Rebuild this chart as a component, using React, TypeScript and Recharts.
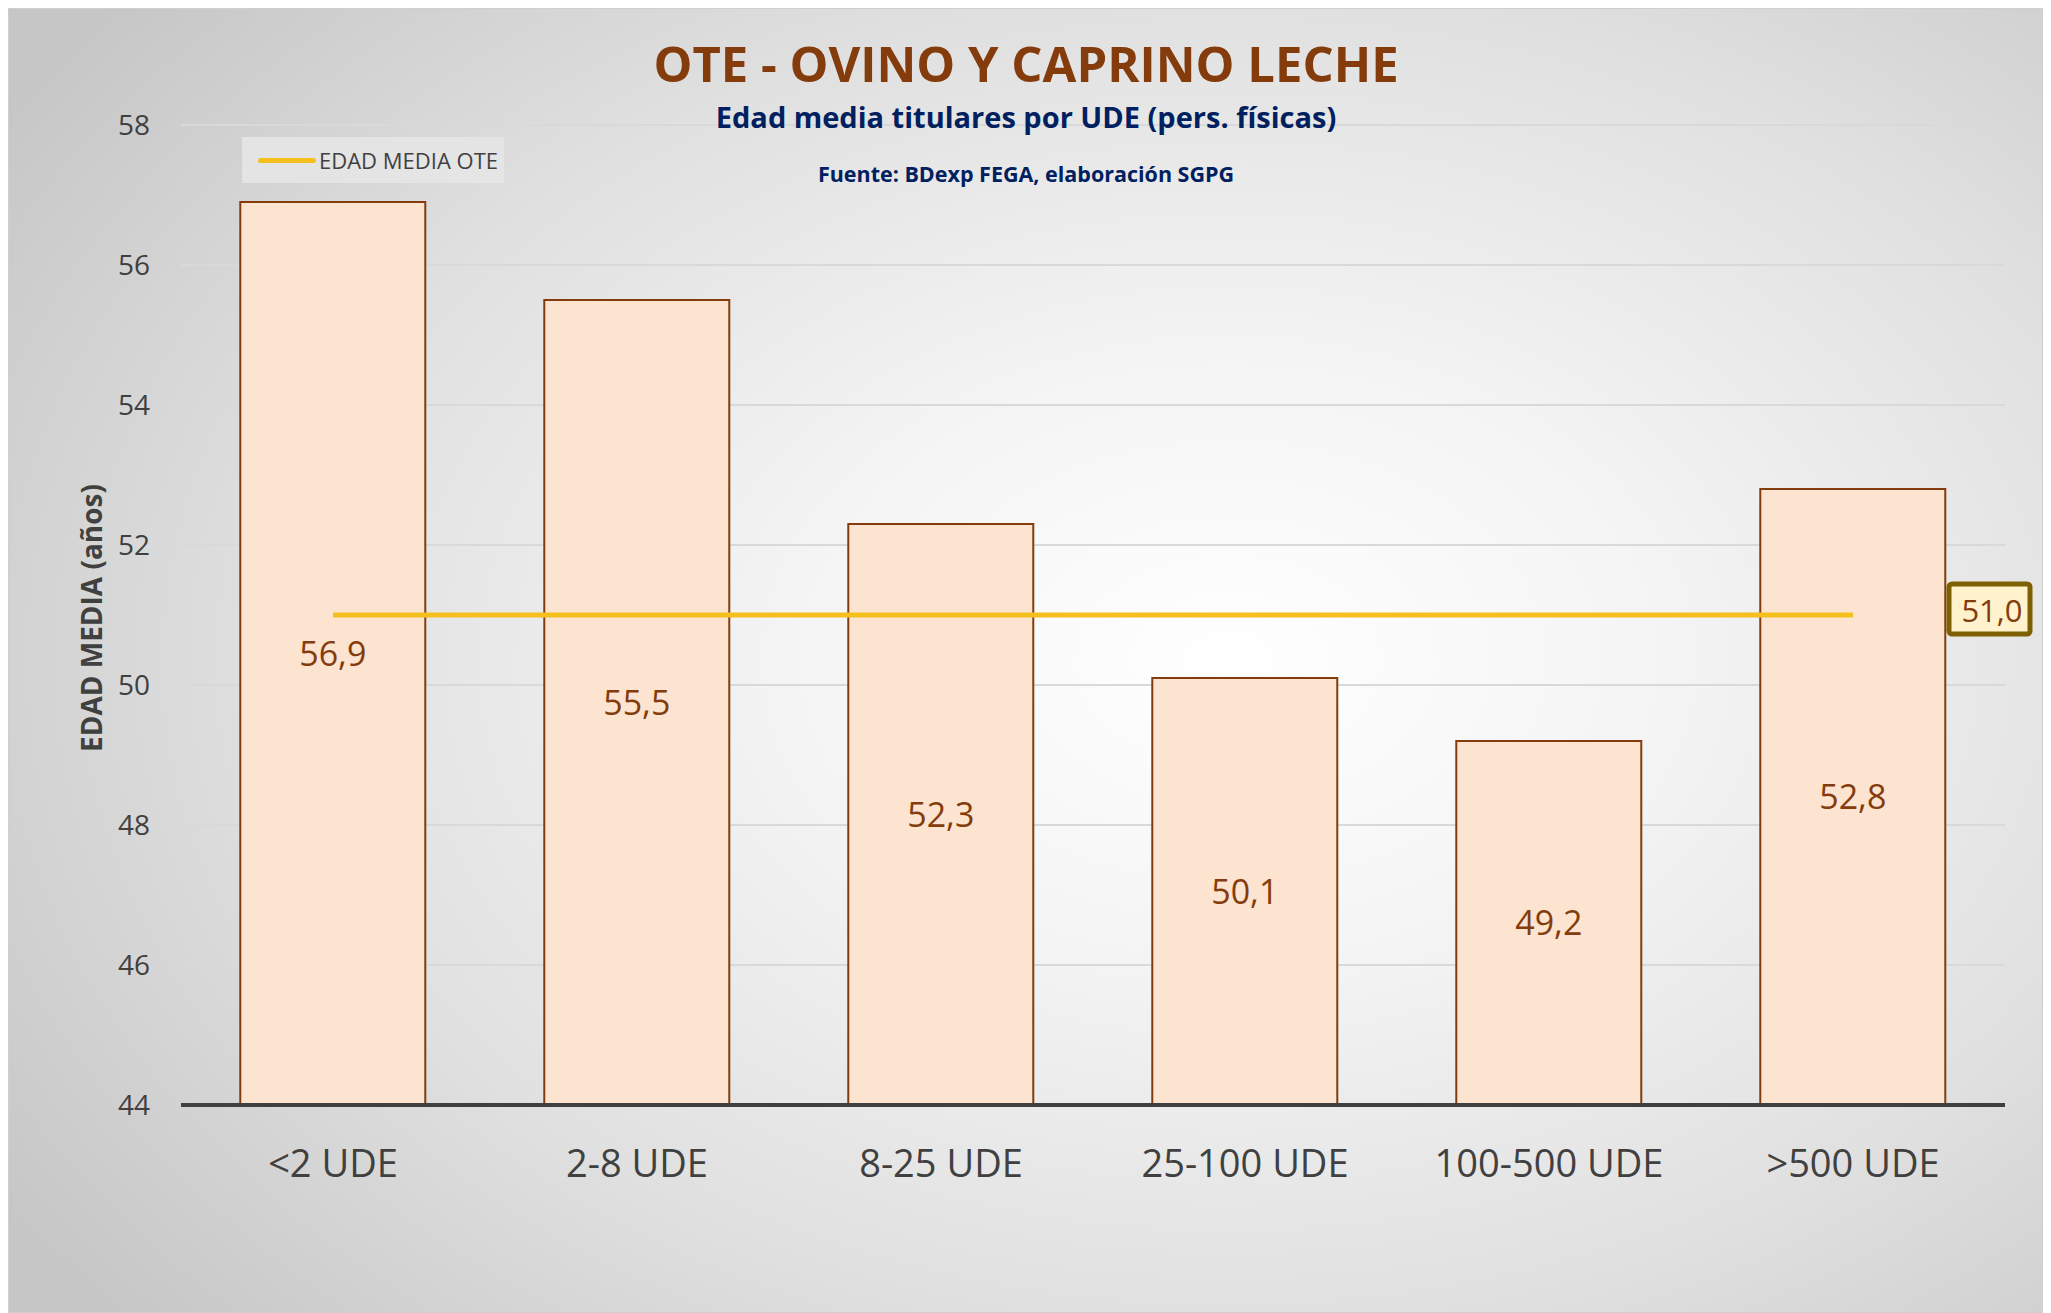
import React from 'react';
import { ComposedChart, Bar, Line, XAxis, YAxis, CartesianGrid, LabelList, Label } from 'recharts';

const categories = ['<2 UDE', '2-8 UDE', '8-25 UDE', '25-100 UDE', '100-500 UDE', '>500 UDE'];
const edadMedia = [56.9, 55.5, 52.3, 50.1, 49.2, 52.8];
const edadMediaOte = [51.0, 51.0, 51.0, 51.0, 51.0, 51.0];
const yTicks = [44, 46, 48, 50, 52, 54, 56, 58];

const data = categories.map((c, i) => ({ cat: c, edad: edadMedia[i], ote: edadMediaOte[i] }));

const FONT = '"Open Sans", "Noto Sans", sans-serif';
const W = 2035;
const H = 1305;

const fmt = (v: any) => (typeof v === 'number' ? v.toFixed(1).replace('.', ',') : v);

const OteLabel = (props: any) => {
  const { x, y, index, value } = props;
  if (index !== categories.length - 1) return null;
  const bx = x + 96;
  const by = y - 31;
  return (
    <g>
      <rect x={bx} y={by} width={81} height={50} rx={3} fill="#FFF2CC" stroke="#7F6000" strokeWidth={5} />
      <text x={bx + 43} y={by + 26} textAnchor="middle" dominantBaseline="central" fontFamily={FONT} fontSize={31} fill="#843C0C">
        {fmt(value)}
      </text>
    </g>
  );
};

export default function App() {
  return (
    <div
      style={{
        position: 'relative',
        width: W,
        height: H,
        boxSizing: 'border-box',
        border: '1px solid #CFCFCF',
        background: 'radial-gradient(ellipse 72% 78% at 60% 50%, #FFFFFF 0%, #F4F4F4 30%, #E0E0E0 65%, #C6C6C6 100%)',
        fontFamily: FONT,
      }}
    >
      <ComposedChart
        width={W - 2}
        height={H - 2}
        data={data}
        margin={{ top: 116, right: 37, bottom: 177, left: 0 }}
        barCategoryGap="19.5%"
      >
        <CartesianGrid vertical={false} stroke="#D9D9D9" strokeWidth={2} />
        <XAxis
          dataKey="cat"
          height={30}
          tickLine={false}
          tickSize={0}
          tickMargin={45}
          axisLine={{ stroke: '#404040', strokeWidth: 4 }}
          tick={{ fontFamily: FONT, fontSize: 38, fill: '#404040' }}
          interval={0}
        />
        <YAxis
          domain={[44, 58]}
          ticks={yTicks}
          width={172}
          axisLine={false}
          tickLine={false}
          tickSize={0}
          tickMargin={31}
          tick={{ fontFamily: FONT, fontSize: 28, fill: '#404040' }}
        >
          <Label
            content={() => (
              <text
                x={82}
                y={609}
                transform="rotate(-90 82 609)"
                textAnchor="middle"
                dominantBaseline="central"
                fontFamily={FONT}
                fontWeight={700}
                fontSize={28}
                fill="#404040"
              >
                EDAD MEDIA (años)
              </text>
            )}
          />
        </YAxis>
        <Bar dataKey="edad" fill="#FCE4D0" stroke="#843C0C" strokeWidth={2} isAnimationActive={false}>
          <LabelList dataKey="edad" position="center" formatter={fmt} fontFamily={FONT} fontSize={34} fill="#843C0C" />
        </Bar>
        <Line
          dataKey="ote"
          stroke="#F5BF1E"
          strokeWidth={5}
          dot={false}
          activeDot={false}
          isAnimationActive={false}
        >
          <LabelList dataKey="ote" content={OteLabel} />
        </Line>
      </ComposedChart>
      <div style={{ position: 'absolute', left: 0, width: 2034, top: 23, textAlign: 'center', fontWeight: 700, fontSize: 49, color: '#843C0C', lineHeight: '62px' }}>
        OTE - OVINO Y CAPRINO LECHE
      </div>
      <div style={{ position: 'absolute', left: 0, width: 2034, top: 89, textAlign: 'center', fontWeight: 700, fontSize: 29, color: '#002060', lineHeight: '38px' }}>
        Edad media titulares por UDE (pers. físicas)
      </div>
      <div style={{ position: 'absolute', left: 0, width: 2034, top: 151, textAlign: 'center', fontWeight: 700, fontSize: 21.5, color: '#002060', lineHeight: '28px' }}>
        Fuente: BDexp FEGA, elaboración SGPG
      </div>
      <div
        style={{
          position: 'absolute',
          left: 233,
          top: 128,
          width: 262,
          height: 46,
          background: 'rgba(230,230,230,0.9)',
          display: 'flex',
          alignItems: 'center',
        }}
      >
        <div style={{ marginLeft: 16, width: 58, height: 5, borderRadius: 3, background: '#F5BF1E' }} />
        <div style={{ marginLeft: 3, fontSize: 22, color: '#404040', whiteSpace: 'nowrap' }}>EDAD MEDIA OTE</div>
      </div>
    </div>
  );
}
